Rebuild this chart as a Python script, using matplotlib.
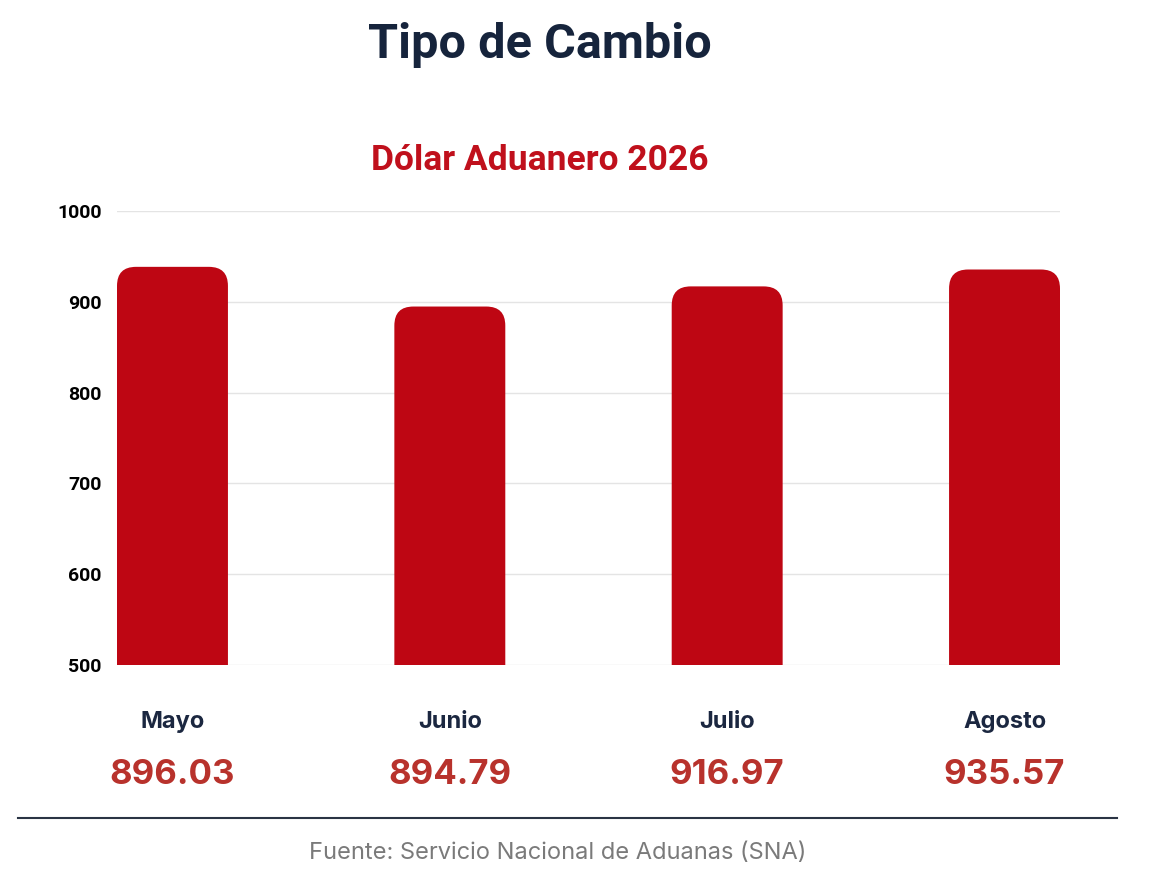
import matplotlib
matplotlib.use("Agg")
import matplotlib.pyplot as plt
from matplotlib.patches import FancyBboxPatch
from matplotlib.transforms import blended_transform_factory

months = ["Mayo", "Junio", "Julio", "Agosto"]
bar_values = [938.5, 894.79, 916.97, 935.57]
value_labels = ["896.03", "894.79", "916.97", "935.57"]
y_ticks = [500, 600, 700, 800, 900, 1000]

W, H = 1153, 884
fig = plt.figure(figsize=(W / 100, H / 100), dpi=100)
fig.patch.set_facecolor("white")

ax = fig.add_axes([117 / W, 1 - 665 / H, (1060 - 117) / W, (665 - 211) / H])
ax.set_xlim(-0.2, 3.2)
ax.set_ylim(500, 1000)
ax.set_yticks(y_ticks)
ax.set_xticks([])
for s in ax.spines.values():
    s.set_visible(False)
ax.tick_params(axis="y", length=0, pad=11)
for lbl in ax.get_yticklabels():
    lbl.set_fontfamily("Roboto")
    lbl.set_fontweight("bold")
    lbl.set_fontsize(14)
    lbl.set_color("black")
ax.grid(axis="y", color="#e4e4e4", linewidth=1)
ax.set_axisbelow(True)

# rounded top corners: radius in px turned into data units
radius_px = 19
x0, y0 = ax.transData.transform((0, 500))
x1, y1 = ax.transData.transform((1, 600))
rx = radius_px / (x1 - x0)
ry = radius_px / ((y1 - y0) / 100)

bars = ax.bar(range(len(months)), bar_values, width=0.4, bottom=0)
for b in bars:
    b.remove()
    box = FancyBboxPatch((b.get_x(), 500 - ry), b.get_width(), b.get_height() - 500 + ry,
                         boxstyle=f"round,pad=0,rounding_size={rx}",
                         mutation_aspect=ry / rx,
                         facecolor="#be0613", edgecolor="none", zorder=3)
    ax.add_patch(box)

trans = blended_transform_factory(ax.transData, fig.transFigure)
for i, (m, v) in enumerate(zip(months, value_labels)):
    ax.text(i, 1 - 722 / H, m, transform=trans, ha="center", va="center",
            fontfamily="Inter", fontweight="bold", fontsize=17, color="#1b2740")
    ax.text(i, 1 - 775 / H, v, transform=trans, ha="center", va="center",
            fontfamily="Inter", fontweight="bold", fontsize=25, color="#b8322c")

fig.text(540 / W, 1 - 45 / H, "Tipo de Cambio", ha="center", va="center",
         fontfamily="Roboto", fontweight="bold", fontsize=35, color="#16243c")
fig.text(540 / W, 1 - 160 / H, "Dólar Aduanero 2026", ha="center", va="center",
         fontfamily="Roboto", fontweight="bold", fontsize=25.5, color="#c0101c")

fig.add_artist(plt.Line2D([18 / W, 1117 / W], [1 - 818 / H, 1 - 818 / H],
                          transform=fig.transFigure, color="#2a3444", linewidth=1.5))
fig.text(558 / W, 1 - 853 / H, "Fuente: Servicio Nacional de Aduanas (SNA)",
         ha="center", va="center", fontfamily="Inter", fontsize=17, color="#7a7a7a")

fig.savefig("out.png", dpi=100, facecolor="white")
